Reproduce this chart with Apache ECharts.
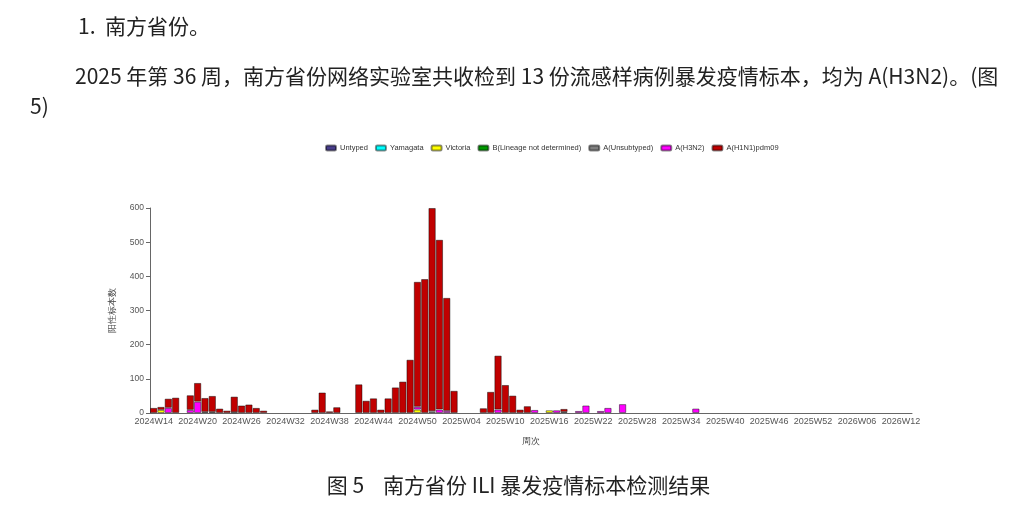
<!DOCTYPE html>
<html>
<head>
<meta charset="utf-8">
<script src="https://cdn.jsdelivr.net/npm/echarts@6/dist/echarts.min.js"></script>
<style>
  html, body { margin: 0; padding: 0; background: #fff; }
  .page { position: relative; width: 1023px; height: 526px; overflow: hidden; font-family: "Noto Sans CJK SC", "Noto Sans", sans-serif; color: #222; }
  #main { position: absolute; left: 0; top: 0; width: 1023px; height: 526px; }
  .h1 { position: absolute; left: 78px; top: 10px; font-size: 21px; line-height: 30px; white-space: pre; }
  .para { position: absolute; left: 30px; top: 60px; font-size: 21px; line-height: 30px; white-space: nowrap; text-indent: 45px; }
  .caption { position: absolute; left: 0; width: 1023px; top: 469px; text-align: center; font-size: 21px; line-height: 30px; white-space: pre; padding-left: 14px; box-sizing: border-box; }
</style>
</head>
<body>
<div class="page">
  <div id="main"></div>
  <div class="h1">1.  南方省份。</div>
  <div class="para">2025 年第 36 周，南方省份网络实验室共收检到 13 份流感样病例暴发疫情标本，均为 A(H3N2)。(图<br>5)</div>
  <div class="caption">图 5    南方省份 ILI 暴发疫情标本检测结果</div>
</div>
<script>
// 周次：2024W14 ~ 2026W13
const weeks = []
for (let w = 14; w <= 52; w++) weeks.push('2024W' + String(w).padStart(2, '0'))
for (let w = 1; w <= 52; w++) weeks.push('2025W' + String(w).padStart(2, '0'))
for (let w = 1; w <= 13; w++) weeks.push('2026W' + String(w).padStart(2, '0'))

const names = ['Untyped', 'Yamagata', 'Victoria', 'B(Lineage not determined)', 'A(Unsubtyped)', 'A(H3N2)', 'A(H1N1)pdm09']
const colors = ['#483D8B', '#00FFFF', '#FFFF00', '#009900', '#808080', '#FF00FF', '#C00000']

//                2024W14 ........................................................................................ 2025W01 ........................................................................................................................................................ 2026W13
const untyped  = [0, 0, 0, 0, 0, 0, 0, 0, 0, 0, 0, 0, 0, 0, 0, 0, 0, 0, 0, 0, 0, 0, 0, 0, 0, 0, 0, 0, 0, 0, 0, 0, 0, 0, 0, 0, 0, 0, 0, 0, 0, 0, 0, 0, 0, 0, 0, 0, 0, 0, 0, 0, 0, 0, 0, 0, 0, 0, 0, 0, 0, 0, 0, 0, 0, 0, 0, 0, 0, 0, 0, 0, 0, 0, 0, 0, 0, 0, 0, 0, 0, 0, 0, 0, 0, 0, 0, 0, 0, 0, 0, 0, 0, 0, 0, 0, 0, 0, 0, 0, 0, 0, 0, 0]
const yamagata = [0, 0, 0, 0, 0, 0, 0, 0, 0, 0, 0, 0, 0, 0, 0, 0, 0, 0, 0, 0, 0, 0, 0, 0, 0, 0, 0, 0, 0, 0, 0, 0, 0, 0, 0, 0, 0, 0, 0, 0, 0, 0, 0, 0, 0, 0, 0, 0, 0, 0, 0, 0, 0, 0, 0, 0, 0, 0, 0, 0, 0, 0, 0, 0, 0, 0, 0, 0, 0, 0, 0, 0, 0, 0, 0, 0, 0, 0, 0, 0, 0, 0, 0, 0, 0, 0, 0, 0, 0, 0, 0, 0, 0, 0, 0, 0, 0, 0, 0, 0, 0, 0, 0, 0]
const victoria = [0, 9, 0, 0, 0, 0, 0, 0, 0, 0, 0, 0, 0, 0, 0, 0, 0, 0, 0, 0, 0, 0, 0, 0, 0, 0, 0, 0, 0, 0, 0, 0, 0, 0, 0, 0, 10, 0, 0, 0, 0, 0, 0, 0, 0, 0, 0, 0, 0, 0, 0, 0, 0, 0, 8, 0, 0, 0, 0, 0, 0, 0, 0, 0, 0, 0, 0, 0, 0, 0, 0, 0, 0, 0, 0, 0, 0, 0, 0, 0, 0, 0, 0, 0, 0, 0, 0, 0, 0, 0, 0, 0, 0, 0, 0, 0, 0, 0, 0, 0, 0, 0, 0, 0]
const bNotDet  = [0, 0, 0, 0, 0, 0, 0, 0, 0, 0, 0, 0, 0, 0, 0, 0, 0, 0, 0, 0, 0, 0, 0, 0, 0, 0, 0, 0, 0, 0, 0, 0, 0, 0, 0, 0, 0, 0, 0, 0, 0, 0, 0, 0, 0, 0, 0, 0, 0, 0, 0, 0, 0, 0, 0, 0, 0, 0, 0, 0, 0, 0, 0, 0, 0, 0, 0, 0, 0, 0, 0, 0, 0, 0, 0, 0, 0, 0, 0, 0, 0, 0, 0, 0, 0, 0, 0, 0, 0, 0, 0, 0, 0, 0, 0, 0, 0, 0, 0, 0, 0, 0, 0, 0]
const aUnsub   = [0, 0, 0, 0, 0, 0, 0, 0, 0, 0, 0, 0, 0, 0, 0, 0, 0, 0, 0, 0, 0, 0, 0, 0, 0, 0, 0, 0, 0, 0, 0, 0, 0, 0, 0, 0, 0, 0, 5, 0, 0, 0, 0, 0, 0, 0, 0, 0, 0, 0, 0, 0, 0, 0, 0, 0, 0, 0, 0, 0, 0, 0, 0, 0, 0, 0, 0, 0, 0, 0, 0, 0, 0, 0, 0, 0, 0, 0, 0, 0, 0, 0, 0, 0, 0, 0, 0, 0, 0, 0, 0, 0, 0, 0, 0, 0, 0, 0, 0, 0, 0, 0, 0, 0]
const h3n2     = [0, 0, 15, 0, 0, 9, 33, 3, 3, 0, 0, 2, 0, 0, 0, 0, 0, 0, 0, 0, 0, 0, 0, 0, 0, 0, 0, 0, 0, 0, 0, 0, 0, 0, 0, 0, 8, 0, 0, 10, 6, 0, 0, 0, 0, 0, 0, 10, 0, 0, 0, 0, 9, 0, 0, 8, 3, 0, 6, 22, 0, 6, 15, 0, 26, 0, 0, 0, 0, 0, 0, 0, 0, 0, 13, 0, 0, 0, 0, 0, 0, 0, 0, 0, 0, 0, 0, 0, 0, 0, 0, 0, 0, 0, 0, 0, 0, 0, 0, 0, 0, 0, 0, 0]
const h1n1     = [15, 9, 27, 45, 0, 43, 55, 41, 47, 13, 7, 46, 22, 25, 15, 7, 0, 0, 0, 0, 0, 0, 10, 60, 5, 17, 0, 0, 84, 36, 43, 10, 43, 75, 92, 156, 366, 392, 595, 497, 331, 65, 0, 0, 0, 14, 62, 158, 82, 51, 10, 20, 0, 0, 0, 0, 9, 0, 0, 0, 0, 0, 0, 0, 0, 0, 0, 0, 0, 0, 0, 0, 0, 0, 0, 0, 0, 0, 0, 0, 0, 0, 0, 0, 0, 0, 0, 0, 0, 0, 0, 0, 0, 0, 0, 0, 0, 0, 0, 0, 0, 0, 0, 0]
const yTicks = [0, 100, 200, 300, 400, 500, 600]

const values = [untyped, yamagata, victoria, bNotDet, aUnsub, h3n2, h1n1]

const myChart = echarts.init(document.getElementById('main'))
const series = names.map((name, idx) => ({
  name: name,
  type: 'bar',
  stack: 'total',
  barWidth: '100%',
  barCategoryGap: '0%',
  itemStyle: {
    color: colors[idx],
    borderColor: 'rgba(0,0,0,0.45)',
    borderWidth: 1
  },
  emphasis: { disabled: true },
  // 0 不画，避免在横轴上叠出边框
  data: values[idx].map(v => (v === 0 ? null : v))
}))

const option = {
  animation: false,
  legend: {
    top: 139,
    left: 320,
    itemWidth: 10,
    itemHeight: 5,
    itemGap: 7,
    textStyle: { fontSize: 7.5, color: '#333', padding: [0, 0, 0, -1] },
    data: names
  },
  grid: { left: 150, right: 111, top: 208, bottom: 113 },
  xAxis: {
    type: 'category',
    data: weeks,
    name: '周次',
    nameLocation: 'middle',
    nameGap: 24,
    nameTextStyle: { fontSize: 9, color: '#444' },
    axisLine: { lineStyle: { color: '#666' } },
    axisTick: { interval: 5, alignWithLabel: true, length: 4, lineStyle: { color: '#666' } },
    axisLabel: { interval: 5, fontSize: 9, color: '#555', margin: 4 }
  },
  yAxis: {
    type: 'value',
    min: yTicks[0],
    max: yTicks[yTicks.length - 1],
    interval: 100,
    name: '阳性标本数',
    nameLocation: 'middle',
    nameGap: 33,
    nameTextStyle: { fontSize: 9, color: '#444' },
    axisLine: { show: true, lineStyle: { color: '#666' } },
    axisTick: { show: true, length: 4, lineStyle: { color: '#666' } },
    axisLabel: { fontSize: 8.5, color: '#555', margin: 6 },
    splitLine: { show: false }
  },
  series: series
}
myChart.setOption(option)
</script>
</body>
</html>
